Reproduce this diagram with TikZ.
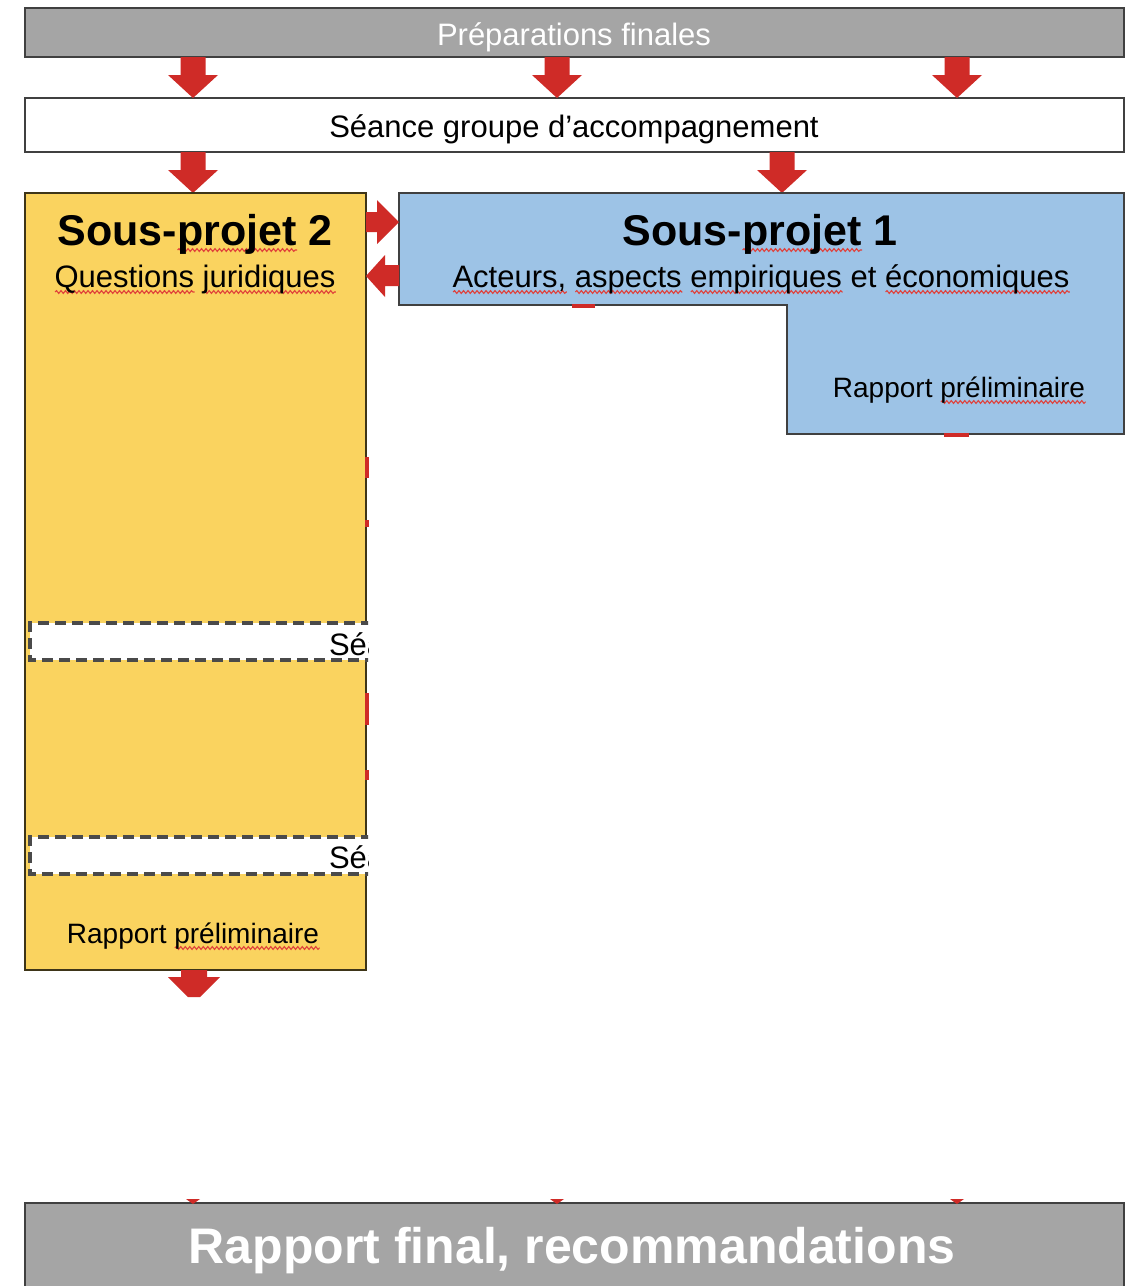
\documentclass[tikz,border=0pt]{standalone}
\usepackage{fontspec}
\setmainfont{Liberation Sans}
\usetikzlibrary{decorations.pathmorphing,calc}
\definecolor{barGray}{HTML}{A5A5A5}
\definecolor{edgeGray}{HTML}{404040}
\definecolor{arrowRed}{HTML}{CF2B27}
\definecolor{spYellow}{HTML}{FAD35F}
\definecolor{spBlue}{HTML}{9DC3E6}
\definecolor{spellRed}{HTML}{E0403A}
\definecolor{dashGray}{HTML}{4A4A4A}
\newlength\spellw
\newcommand\spellerr[1]{\settowidth\spellw{#1}\rlap{\raisebox{-5pt}{\tikz[baseline=0pt]\draw[spellRed,line width=1.1pt,decorate,decoration={snake,amplitude=1.4pt,segment length=4.5pt}] (0pt,0pt) -- (\spellw,0pt);}}#1}
\begin{document}
\begin{tikzpicture}[x=1pt,y=-1pt,
  boxnode/.style={draw=edgeGray, line width=1.6pt, inner sep=0pt, outer sep=0pt, rectangle},
  txt/.style={anchor=base, inner sep=0pt, outer sep=0pt, text=black, font=\fontsize{31}{36}\selectfont},
  smalltxt/.style={txt, font=\fontsize{28}{33}\selectfont},
  titletxt/.style={txt, font=\fontsize{43}{50}\selectfont\bfseries},
  finaltxt/.style={txt, text=white, font=\fontsize{50}{58}\selectfont\bfseries},
  dashbox/.style={draw=dashGray, line width=3.2pt, dash pattern=on 11pt off 6pt},
  redmark/.style={fill=arrowRed},
  pics/dnarrow/.style={code={\fill[arrowRed] (-12.5,0) -- (12.5,0) -- (12.5,{#1-23}) -- (25,{#1-23}) -- (0,#1) -- (-25,{#1-23}) -- (-12.5,{#1-23}) -- cycle;}}
]
\useasboundingbox (0,0) rectangle (1135,1286);
\fill[white] (0,0) rectangle (1135,1286);

% column coordinates
\coordinate (c1) at (193,0);
\coordinate (c2) at (557,0);
\coordinate (c3) at (957,0);
\coordinate (c4) at (782,0);

% top bar
\node[boxnode, fill=barGray, minimum width=1099, minimum height=49] (prep) at (574.5,32.5) {};
\node[txt, text=white] (preptxt) at (574,45) {Préparations finales};

% seance box
\node[boxnode, fill=white, minimum width=1099, minimum height=54] (seance) at (574.5,125) {};
\node[txt] (seancetxt) at (574,137) {Séance groupe d’accompagnement};

% arrows prep -> seance
\pic at (prep.south -| c1) {dnarrow=41};
\pic at (prep.south -| c2) {dnarrow=41};
\pic at (prep.south -| c3) {dnarrow=41};
% arrows seance -> sous-projets
\pic at (seance.south -| c1) {dnarrow=41};
\pic at (seance.south -| c4) {dnarrow=41};

% Sous-projet 2
\node[boxnode, draw=black!75!spYellow, fill=spYellow, minimum width=341, minimum height=777] (sp2) at (195.5,581.5) {};
\node[titletxt] (sp2title) at (195,245) {Sous-\spellerr{projet} 2};
\node[txt] (sp2sub) at (195,287) {\spellerr{Questions} \spellerr{juridiques}};
\node[smalltxt] (sp2rap) at (193,943) {Rapport \spellerr{préliminaire}};

% dashed seance boxes inside sp2 (clipped)
\begin{scope}
\clip (20,600) rectangle (368,900);
\fill[white] (30,623) rectangle (372,660);
\draw[dashbox] (372,623) -- (30,623) -- (30,660) -- (372,660);
\node[txt, anchor=base west] (sea2) at (329,655) {Séance groupe d’accompagnement};
\fill[white] (30,837) rectangle (372,874);
\draw[dashbox] (372,837) -- (30,837) -- (30,874) -- (372,874);
\node[txt, anchor=base west] (sea3) at (329,868) {Séance groupe d’accompagnement};
\end{scope}

% red marks on sp2 right edge
\fill[redmark] (365,457) rectangle (369,478);
\fill[redmark] (365,520) rectangle (369,527);
\fill[redmark] (365,693) rectangle (369,725);
\fill[redmark] (365,770) rectangle (369,780);

% Sous-projet 1 (L shape)
\coordinate (sp1nw) at (399,193);
\filldraw[fill=spBlue, draw=edgeGray, line width=1.6pt] (sp1nw) -- (1124,193) -- (1124,434) -- (787,434) -- (787,305) -- (399,305) -- cycle;
\node[titletxt] (sp1title) at (760,245) {Sous-\spellerr{projet} 1};
\node[txt] (sp1sub) at (761,287) {\spellerr{Acteurs,} \spellerr{aspects} \spellerr{empiriques} et \spellerr{économiques}};
\node[smalltxt] (sp1rap) at (959,397) {Rapport \spellerr{préliminaire}};
\fill[redmark] (572,304) rectangle (595,308);
\fill[redmark] (944,433) rectangle (969,437);

% arrows between sp2 and sp1
\fill[arrowRed] (sp2.east |- 0,212) -- (377,212) -- (377,200) -- (sp1nw |- 0,222) -- (377,244) -- (377,232) -- (sp2.east |- 0,232) -- cycle;
\fill[arrowRed] (sp1nw |- 0,265) -- (385,265) -- (385,255) -- (sp2.east |- 0,276) -- (385,297) -- (385,286) -- (sp1nw |- 0,286) -- cycle;

% truncated arrow below sp2
\coordinate (sp2out) at (sp2.south -| 194,0);
\fill[arrowRed] ($(sp2out)+(-13,0)$) -- ($(sp2out)+(13,0)$) -- ($(sp2out)+(13,7)$) -- ($(sp2out)+(26,7)$) -- ($(sp2out)+(6,27)$) -- ($(sp2out)+(-6,27)$) -- ($(sp2out)+(-26,7)$) -- ($(sp2out)+(-13,7)$) -- cycle;

% final bar
\coordinate (finnw) at (25,1203);
\fill[barGray] (finnw) rectangle (1124,1290);
\draw[edgeGray, line width=1.6pt] (25,1290) -- (finnw) -- (1124,1203) -- (1124,1290);
\node[finaltxt] (finaltxt) at (572,1263) {Rapport final, recommandations};
% small red tips above final bar
\fill[redmark] (186,1199) -- (200,1199) -- (193,1204) -- cycle;
\fill[redmark] (550,1199) -- (564,1199) -- (557,1204) -- cycle;
\fill[redmark] (950,1199) -- (964,1199) -- (957,1204) -- cycle;
\end{tikzpicture}
\end{document}
